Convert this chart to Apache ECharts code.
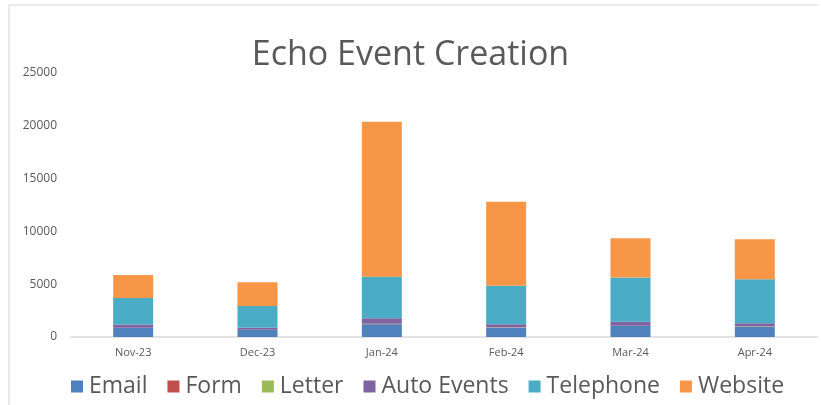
<!DOCTYPE html>
<html>
<head>
<meta charset="utf-8">
<script src="https://cdn.jsdelivr.net/npm/echarts@6/dist/echarts.min.js"></script>
<style>
    html, body { margin: 0; padding: 0; background: #ffffff; }
    #chart { width: 821px; height: 405px; }
</style>
</head>
<body>
<div id="chart"></div>
<script>
var months = ['Nov-23', 'Dec-23', 'Jan-24', 'Feb-24', 'Mar-24', 'Apr-24'];

var email = [850, 660, 1200, 880, 1040, 980];
var form = [30, 20, 40, 30, 30, 25];
var letter = [5, 5, 10, 5, 5, 5];
var autoEvents = [300, 200, 520, 290, 380, 290];
var telephone = [2500, 2060, 3940, 3660, 4170, 4160];
var website = [2190, 2250, 14680, 7950, 3730, 3790];

var yTicks = [0, 5000, 10000, 15000, 20000, 25000];

var seriesNames = ['Email', 'Form', 'Letter', 'Auto Events', 'Telephone', 'Website'];
var seriesData = [email, form, letter, autoEvents, telephone, website];
var seriesColors = ['#4f81bd', '#c0504d', '#9bbb59', '#8064a2', '#4bacc6', '#f79646'];

var TEXT_COLOR = '#595959';
var FONT = '"Open Sans", "Noto Sans", sans-serif';

var chart = echarts.init(document.getElementById('chart'));

var series = [];
for (var i = 0; i < seriesNames.length; i++) {
    series.push({
        name: seriesNames[i],
        type: 'bar',
        stack: 'total',
        barWidth: 40,
        itemStyle: { color: seriesColors[i] },
        data: seriesData[i]
    });
}

chart.setOption({
    backgroundColor: '#ffffff',
    animation: false,
    color: seriesColors,
    title: {
        text: 'Echo Event Creation',
        left: 'center',
        top: 33,
        textStyle: {
            color: TEXT_COLOR,
            fontFamily: FONT,
            fontSize: 34,
            fontWeight: 'normal'
        }
    },
    legend: {
        bottom: 2,
        left: 66,
        itemWidth: 12,
        itemHeight: 12,
        itemGap: 20,
        icon: 'rect',
        textStyle: {
            color: TEXT_COLOR,
            fontFamily: FONT,
            fontSize: 23,
            padding: [0, 0, 0, 1]
        },
        data: seriesNames
    },
    grid: {
        left: 71,
        right: 4,
        top: 73,
        bottom: 68,
        containLabel: false
    },
    xAxis: {
        type: 'category',
        data: months,
        axisLine: { lineStyle: { color: '#d9d9d9', width: 1.5 } },
        axisTick: { show: false },
        axisLabel: {
            color: TEXT_COLOR,
            fontFamily: FONT,
            fontSize: 11,
            margin: 10
        }
    },
    yAxis: {
        type: 'value',
        min: yTicks[0],
        max: yTicks[yTicks.length - 1],
        interval: yTicks[1] - yTicks[0],
        axisLine: { show: false },
        axisTick: { show: false },
        splitLine: { show: false },
        axisLabel: {
            color: TEXT_COLOR,
            fontFamily: FONT,
            fontSize: 12,
            margin: 14,
            formatter: function (value) {
                return String(value);
            }
        }
    },
    graphic: [
        {
            type: 'line',
            shape: { x1: 9, y1: 5, x2: 818, y2: 5 },
            style: { stroke: '#e3e3e3', lineWidth: 1.5 }
        },
        {
            type: 'line',
            shape: { x1: 9, y1: 5, x2: 9, y2: 405 },
            style: { stroke: '#e3e3e3', lineWidth: 1.5 }
        }
    ],
    series: series
});
</script>
</body>
</html>
